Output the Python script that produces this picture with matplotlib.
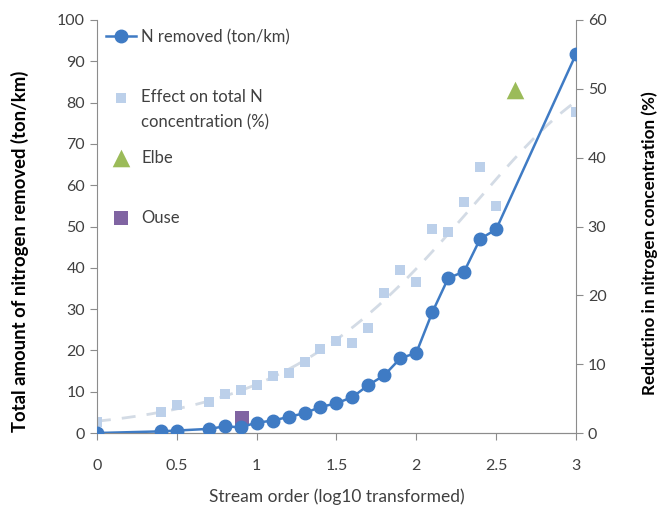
import numpy as np
import matplotlib
matplotlib.use("Agg")
import matplotlib.pyplot as plt

plt.rcParams['font.family'] = ['Lato', 'DejaVu Sans']

stream_order = [0, 0.4, 0.5, 0.7, 0.8, 0.9, 1.0, 1.1, 1.2, 1.3, 1.4, 1.5,
                1.6, 1.7, 1.8, 1.9, 2.0, 2.1, 2.2, 2.3, 2.4, 2.5, 3.0]
n_removed = [0, 0.4, 0.6, 1.0, 1.6, 1.4, 2.5, 3.0, 3.9, 4.8, 6.3, 7.2,
             8.7, 11.6, 14.0, 18.1, 19.4, 29.2, 37.5, 39.1, 47.0, 49.3, 91.7]
effect_pct = [1.6, 3.1, 4.0, 4.5, 5.7, 6.2, 7.0, 8.3, 8.7, 10.3, 12.2, 13.4,
              13.1, 15.2, 20.4, 23.7, 21.9, 29.7, 29.2, 33.6, 38.7, 33.0, 46.6]
elbe_x, elbe_pct = [2.62], [49.8]
ouse_x, ouse_n = [0.906], [3.6]

x_ticks = [0, 0.5, 1, 1.5, 2, 2.5, 3]
x_labels = ['0', '0.5', '1', '1.5', '2', '2.5', '3']

blue = '#3F7BC4'
light = '#BCD0EA'
gray = '#8C8C8C'
txt = '#404040'

fig = plt.figure(figsize=(6.66, 5.11), dpi=100)
ax = fig.add_axes([0.1456, 0.1526, 0.7192, 0.8083])
ax2 = ax.twinx()

# trend on effect (fit in log space)
coef = np.polyfit(stream_order, np.log(effect_pct), 3)
xs = np.linspace(0, 3, 200)
ax2.plot(xs, np.exp(np.polyval(coef, xs)), color='#D3DBE5', lw=2, ls=(0, (5, 4)), zorder=1)
sq = ax2.scatter(stream_order, effect_pct, marker='s', s=55, color=light, zorder=2, linewidths=0)
el = ax2.scatter(elbe_x, elbe_pct, marker='^', s=160, color='#9BBB59', zorder=3, linewidths=0)

ax.set_zorder(ax2.get_zorder() + 1)
ax.patch.set_visible(False)
ln, = ax.plot(stream_order, n_removed, color=blue, lw=1.8, marker='o', ms=9, zorder=3)
ou = ax.scatter(ouse_x, ouse_n, marker='s', s=100, color='#8064A2', zorder=2, linewidths=0)

ax.set_xlim(0, 3)
ax.set_ylim(0, 100)
ax2.set_ylim(0, 60)
ax.set_xticks(x_ticks)
ax.set_xticklabels(x_labels)
ax.set_yticks(range(0, 101, 10))
ax2.set_yticks(range(0, 61, 10))

for a in (ax, ax2):
    a.spines['top'].set_visible(False)
    for s in ('left', 'right', 'bottom'):
        a.spines[s].set_color(gray)
    a.tick_params(colors=gray, labelcolor=txt, labelsize=11.5, length=5, direction='out')
ax.spines['right'].set_visible(False)
ax2.spines['left'].set_visible(False)
ax.tick_params(axis='x', pad=14)

ax.set_xlabel('Stream order (log10 transformed)', fontsize=12.5, color=txt)
ax.xaxis.set_label_coords(0.5, -0.135)
ax.set_ylabel('Total amount of nitrogen removed (ton/km)', fontsize=13.3, fontweight='bold',
              color='black')
ax.yaxis.set_label_coords(-0.142, 0.44)
ax2.set_ylabel('Reductino in nitrogen concentration (%)', fontsize=12.3, fontweight='bold',
               color='black', rotation=90)
ax2.yaxis.set_label_coords(1.136, 0.46)

leg = ax.legend([ln, sq, el, ou],
                ['N removed (ton/km)', 'Effect on total N', 'Elbe', 'Ouse'],
                loc='upper left', bbox_to_anchor=(0.0, 1.0), frameon=False, fontsize=12,
                labelspacing=2.65, handlelength=1.8, handletextpad=0.3, borderaxespad=0.15)
for t in leg.get_texts():
    t.set_color(txt)

fig.canvas.draw()
eff = leg.get_texts()[1]
bb = eff.get_window_extent()
x0, y0 = fig.transFigure.inverted().transform((bb.x0, bb.y0 - 25))
fig.text(x0, y0, 'concentration (%)', fontsize=12, color=txt, ha='left', va='bottom')

fig.savefig('out.png', dpi=100)
